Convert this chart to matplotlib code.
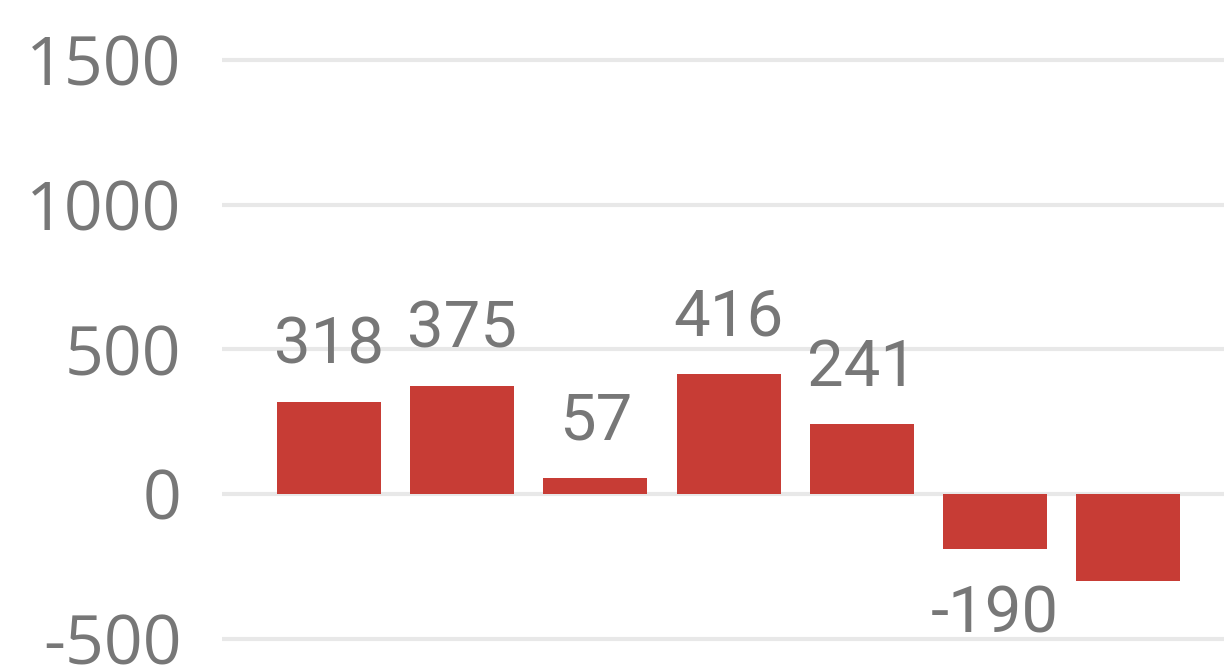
import matplotlib
matplotlib.use("Agg")
import matplotlib.pyplot as plt
import numpy as np

categories = ["A", "B", "C", "D", "E", "F", "G"]
values = [318, 375, 57, 416, 241, -190, -301]
labels = ["318", "375", "57", "416", "241", "-190", ""]
yticks = [-500, 0, 500, 1000, 1500]

bar_color = "#C73C35"
text_color = "#777777"
grid_color = "#E8E8E8"

fig = plt.figure(figsize=(12.24, 6.7), dpi=100)
ax = fig.add_axes([222 / 1224, 0, 1 - 222 / 1224, 1])

x = np.arange(len(categories))
bars = ax.bar(x, values, width=0.78, color=bar_color, zorder=3)

ax.set_xlim(-0.803, 6.719)
ax.set_ylim(-608, 1707)
ax.set_yticks(yticks)
ax.set_yticklabels([str(t) for t in yticks], fontfamily="Open Sans",
                   fontsize=49, color=text_color)
ax.tick_params(axis="y", length=0, pad=29)
ax.set_xticks([])
ax.grid(axis="y", color=grid_color, linewidth=3, zorder=0)
for s in ax.spines.values():
    s.set_visible(False)

for b, v, lab in zip(bars, values, labels):
    if not lab:
        continue
    off = 18 if v >= 0 else -25
    ax.annotate(lab, (b.get_x() + b.get_width() / 2, v),
                xytext=(0, off), textcoords="offset points",
                ha="center", va="bottom" if v >= 0 else "top",
                fontfamily="Roboto", fontsize=47, color=text_color, zorder=4)

fig.savefig("out.png", dpi=100)
